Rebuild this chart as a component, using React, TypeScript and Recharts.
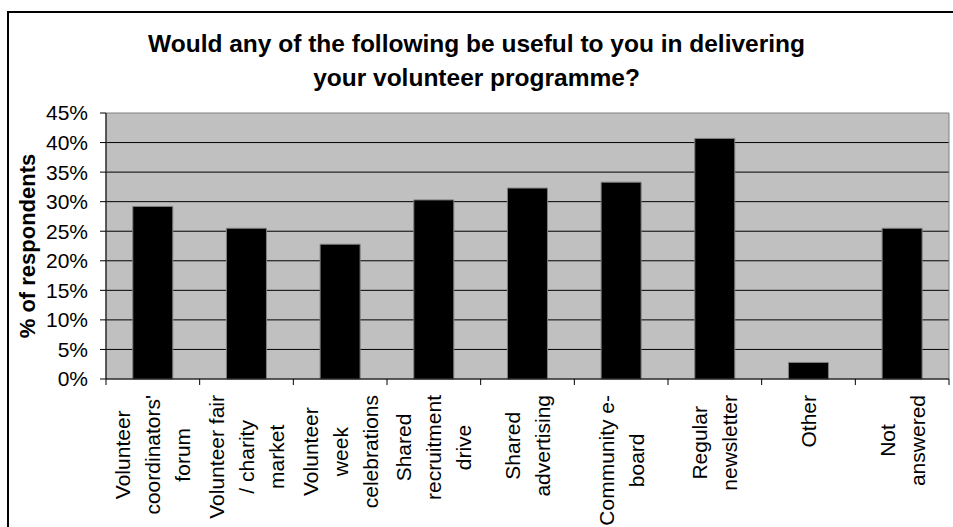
import React from 'react';
import { BarChart, Bar, XAxis, YAxis, CartesianGrid, ReferenceArea } from 'recharts';

const title = ['Would any of the following be useful to you in delivering', 'your volunteer programme?'];
const yAxisTitle = '% of respondents';
const categories = [
  "Volunteer\ncoordinators'\nforum",
  'Volunteer fair\n/ charity\nmarket',
  'Volunteer\nweek\ncelebrations',
  'Shared\nrecruitment\ndrive',
  'Shared\nadvertising',
  'Community e-\nboard',
  'Regular\nnewsletter',
  'Other',
  'Not\nanswered',
];
const values = [29.2, 25.5, 22.8, 30.3, 32.3, 33.3, 40.7, 2.8, 25.5];
const yTicks = [0, 5, 10, 15, 20, 25, 30, 35, 40, 45];
const gridValues = [5, 10, 15, 20, 25, 30, 35, 40];

const data = categories.map((c, i) => ({ name: c, value: values[i] }));

const W = 953;
const H = 527;
const PLOT_LEFT = 106;
const PLOT_RIGHT = 949;
const PLOT_BOTTOM = 379;
const PLOT_TOP = 113;
const X_AXIS_H = 140;
const BAND = (PLOT_RIGHT - PLOT_LEFT) / categories.length;
const FONT = 'Arial, "Liberation Sans", sans-serif';
const TICK_FS = 21;
const LINE_PITCH = 30;
const LABEL_GAP = 16;

let ctx: CanvasRenderingContext2D | null = null;
const measure = (t: string) => {
  if (!ctx) {
    const c = document.createElement('canvas');
    ctx = c.getContext('2d');
  }
  if (!ctx) return t.length * TICK_FS * 0.5;
  ctx.font = `${TICK_FS}px Arial, "Liberation Sans", sans-serif`;
  return ctx.measureText(t).width;
};

const XTick = (props: any) => {
  const { x, index, payload } = props;
  const lines = String(payload.value).split('\n');
  const L = Math.max(...lines.map(measure));
  const d = LABEL_GAP + L / 2;
  const n = lines.length;
  return (
    <g>
      <line x1={x - BAND / 2} x2={x - BAND / 2} y1={PLOT_BOTTOM} y2={PLOT_BOTTOM + 6} stroke="#000" />
      {index === categories.length - 1 && (
        <line x1={x + BAND / 2} x2={x + BAND / 2} y1={PLOT_BOTTOM} y2={PLOT_BOTTOM + 6} stroke="#000" />
      )}
      {lines.map((t, i) => (
        <text
          key={i}
          transform={`translate(${x + (i - (n - 1) / 2) * LINE_PITCH}, ${PLOT_BOTTOM + d}) rotate(-90)`}
          textAnchor="middle"
          dominantBaseline="central"
          fontSize={TICK_FS}
          fontFamily={FONT}
          fill="#000"
        >
          {t}
        </text>
      ))}
    </g>
  );
};

const YLabel = (props: any) => {
  const vb = props.viewBox || {};
  const cy = (vb.y ?? PLOT_TOP) + (vb.height ?? PLOT_BOTTOM - PLOT_TOP) / 2;
  return (
    <text
      transform={`translate(27, ${cy}) rotate(-90)`}
      textAnchor="middle"
      dominantBaseline="central"
      fontSize={22}
      fontWeight="bold"
      fontFamily={FONT}
      fill="#000"
    >
      {yAxisTitle}
    </text>
  );
};

export default function App() {
  return (
    <div style={{ position: 'relative', width: W, height: H, overflow: 'hidden', background: '#fff', fontFamily: FONT }}>
      <style>{'body{margin:0;}'}</style>
      <div
        style={{
          position: 'absolute',
          left: 7,
          top: 11,
          width: W + 40,
          height: H + 40,
          border: '2px solid #000',
          boxSizing: 'border-box',
        }}
      />
      <div
        style={{
          position: 'absolute',
          left: 0,
          top: 27,
          width: W,
          textAlign: 'center',
          fontWeight: 'bold',
          fontSize: 24.5,
          lineHeight: '34px',
          color: '#000',
        }}
      >
        {title.map((t, i) => (
          <div key={i}>{t}</div>
        ))}
      </div>
      <div style={{ position: 'absolute', left: 0, top: 0 }}>
        <BarChart
          width={W}
          height={H}
          data={data}
          margin={{ top: PLOT_TOP, right: W - PLOT_RIGHT, bottom: H - PLOT_BOTTOM - X_AXIS_H, left: 0 }}
          barCategoryGap="28.6%"
          style={{ fontFamily: FONT }}
        >
          <CartesianGrid
            vertical={false}
            fill="#C0C0C0"
            fillOpacity={1}
            stroke="#000"
            horizontalValues={gridValues}
          />
          <ReferenceArea y1={0} y2={45} fill="none" stroke="#808080" strokeWidth={1} ifOverflow="visible" />
          <XAxis
            dataKey="name"
            interval={0}
            height={X_AXIS_H}
            tickLine={false}
            axisLine={{ stroke: '#000' }}
            tick={<XTick />}
          />
          <YAxis
            width={PLOT_LEFT}
            domain={[0, 45]}
            ticks={yTicks}
            interval={0}
            tickFormatter={(v: number) => `${v}%`}
            axisLine={{ stroke: '#000' }}
            tickLine={{ stroke: '#000' }}
            tickSize={6}
            tickMargin={12}
            tick={{ fill: '#000', fontSize: TICK_FS, fontFamily: FONT }}
            label={<YLabel />}
          />
          <Bar dataKey="value" fill="#000" stroke="#808080" strokeWidth={1} isAnimationActive={false} />
        </BarChart>
      </div>
    </div>
  );
}
